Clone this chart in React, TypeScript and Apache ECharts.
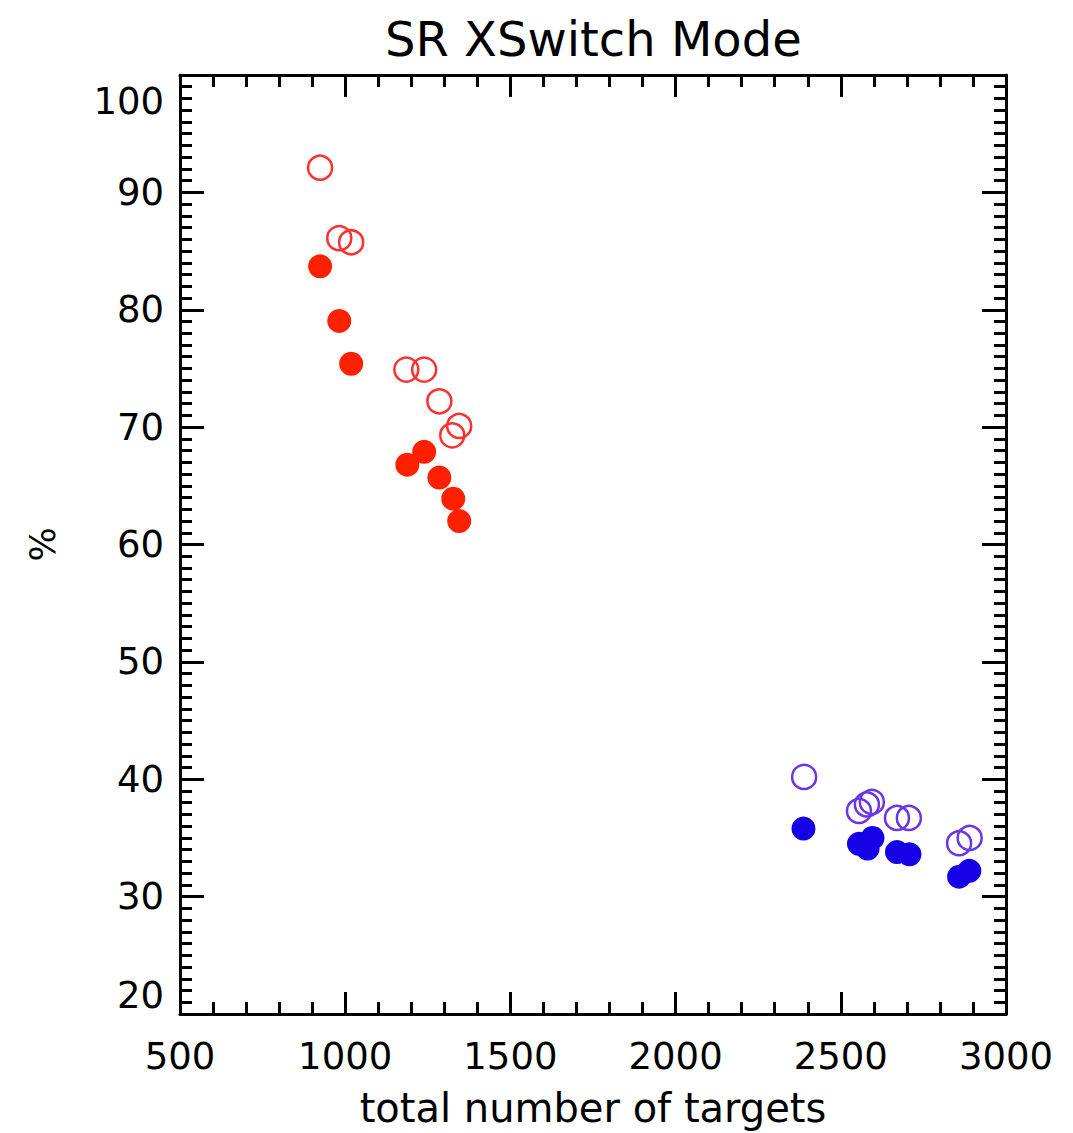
import React, { useEffect, useRef } from "react";
import * as echarts from "echarts";

const xTicks = [500, 1000, 1500, 2000, 2500, 3000];
const yTicks = [20, 30, 40, 50, 60, 70, 80, 90, 100];

const redOpen: [number, number][] = [
  [924, 92.1], [982, 86.1], [1018, 85.75], [1185, 74.9],
  [1239, 74.9], [1285, 72.2], [1324, 69.3], [1345, 70.1],
];
const redFilled: [number, number][] = [
  [924, 83.7], [982, 79.05], [1018, 75.4], [1188, 66.8],
  [1239, 67.9], [1285, 65.7], [1327, 63.9], [1345, 62.0],
];
const blueOpen: [number, number][] = [
  [2389, 40.2], [2555, 37.3], [2579, 37.85], [2594, 38.07],
  [2670, 36.7], [2706, 36.7], [2858, 34.55], [2890, 35.0],
];
const blueFilled: [number, number][] = [
  [2387, 35.8], [2555, 34.5], [2581, 34.1], [2596, 35.0],
  [2670, 33.8], [2708, 33.6], [2858, 31.7], [2889, 32.2],
];

const FONT = "DejaVu Sans";

export default function App() {
  const ref = useRef<HTMLDivElement>(null);
  useEffect(() => {
    document.body.style.margin = "0";
    const chart = echarts.init(ref.current!, null, { renderer: "svg" });
    const axisLine = { show: true, lineStyle: { color: "#000", width: 3 } };
    const xCommon = {
      type: "value" as const,
      min: xTicks[0],
      max: xTicks[xTicks.length - 1],
      interval: 500,
      splitLine: { show: false },
      axisLine,
      axisTick: { show: true, inside: true, length: 22, lineStyle: { color: "#000", width: 3 } },
      minorTick: { show: true, splitNumber: 5, length: 12, lineStyle: { color: "#000", width: 3 } },
    };
    const yCommon = {
      type: "value" as const,
      min: yTicks[0],
      max: yTicks[yTicks.length - 1],
      interval: 10,
      splitLine: { show: false },
      axisLine,
      axisTick: { show: true, inside: true, length: 24, lineStyle: { color: "#000", width: 3 } },
      minorTick: { show: true, splitNumber: 10, length: 12, lineStyle: { color: "#000", width: 3 } },
    };
    chart.setOption({
      animation: false,
      backgroundColor: "#fff",
      title: {
        text: "SR XSwitch Mode",
        left: 380,
        top: 10,
        textStyle: { fontFamily: FONT, fontSize: 48, fontWeight: "normal", color: "#000" },
      },
      grid: { left: 180, right: 67, top: 75, bottom: 115 },
      xAxis: [
        {
          ...xCommon,
          position: "bottom",
          name: "total number of targets",
          nameLocation: "middle",
          nameGap: 74,
          nameTextStyle: { fontFamily: FONT, fontSize: 40, color: "#000" },
          axisLabel: {
            show: true,
            margin: 24,
            fontFamily: FONT,
            fontSize: 37,
            color: "#000",
            formatter: (v: number) => String(v),
          },
        },
        { ...xCommon, position: "top", axisLabel: { show: false } },
      ],
      yAxis: [
        {
          ...yCommon,
          position: "left",
          name: "%",
          nameLocation: "middle",
          nameRotate: 90,
          nameGap: 120,
          nameTextStyle: { fontFamily: FONT, fontSize: 36, color: "#000" },
          axisLabel: {
            show: true,
            margin: 16,
            fontFamily: FONT,
            fontSize: 37,
            color: "#000",
            padding: [8, 0, 0, 0],
            formatter: (v: number) => String(v),
            verticalAlignMaxLabel: "top",
            verticalAlignMinLabel: "bottom",
          },
        },
        { ...yCommon, position: "right", axisLabel: { show: false } },
      ],
      series: [
        {
          type: "scatter",
          data: redOpen,
          symbol: "circle",
          symbolSize: 24,
          itemStyle: { color: "rgba(0,0,0,0)", borderColor: "#ff3030", borderWidth: 2.5, opacity: 1 },
        },
        {
          type: "scatter",
          data: redFilled,
          symbol: "circle",
          symbolSize: 24,
          itemStyle: { color: "#ff2000", opacity: 1 },
        },
        {
          type: "scatter",
          data: blueOpen,
          symbol: "circle",
          symbolSize: 24,
          itemStyle: { color: "rgba(0,0,0,0)", borderColor: "#6a36ea", borderWidth: 2.5, opacity: 1 },
        },
        {
          type: "scatter",
          data: blueFilled,
          symbol: "circle",
          symbolSize: 24,
          itemStyle: { color: "#1600e6", opacity: 1 },
        },
      ],
    });
    return () => chart.dispose();
  }, []);
  return <div ref={ref} style={{ width: 1073, height: 1133 }} />;
}
